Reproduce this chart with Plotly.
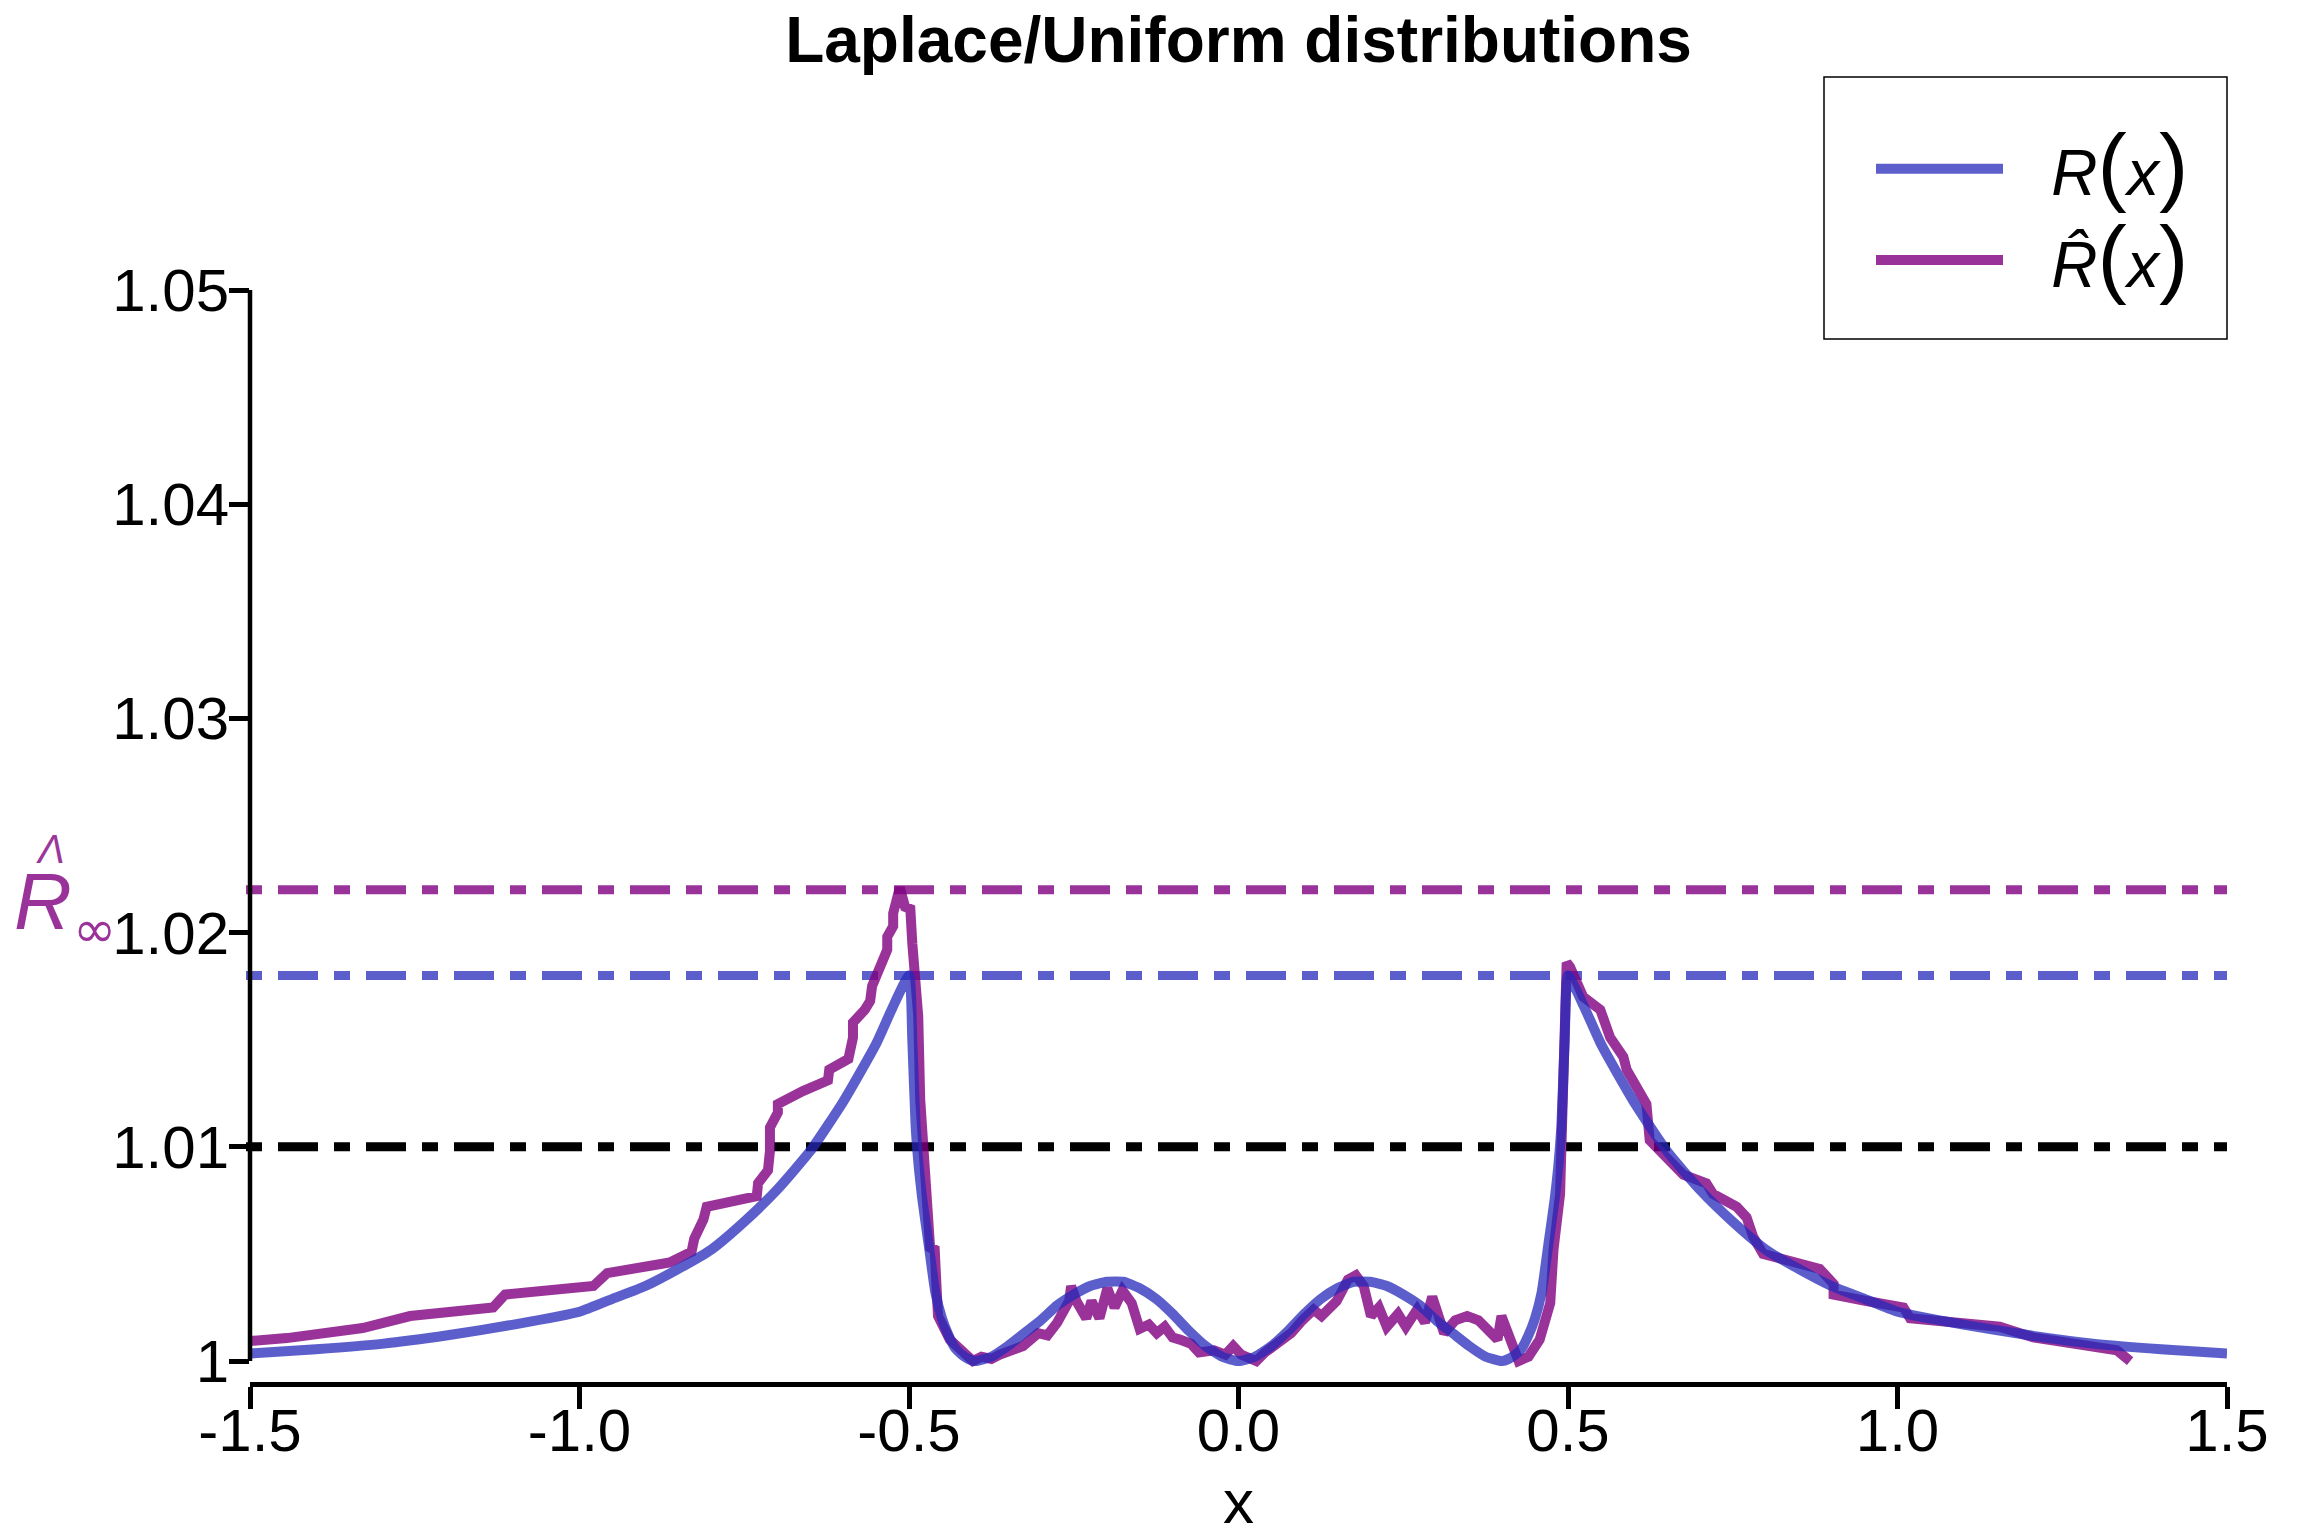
import plotly.graph_objects as go

# ---------------- data ----------------
r_x = [-1.5, -1.4, -1.3, -1.2, -1.1, -1.0, -0.95, -0.9, -0.85, -0.8, -0.75, -0.7, -0.65, -0.6,
       -0.55, -0.525, -0.5, -0.495, -0.49, -0.485, -0.48, -0.47, -0.46, -0.45, -0.44, -0.43,
       -0.42, -0.41, -0.4, -0.375, -0.35, -0.325, -0.3, -0.275, -0.25, -0.225, -0.2, -0.175,
       -0.15, -0.125, -0.1, -0.075, -0.05, -0.025, 0.0,
       0.025, 0.05, 0.075, 0.1, 0.125, 0.15, 0.175, 0.2, 0.225, 0.25, 0.275, 0.3, 0.325, 0.35,
       0.375, 0.4, 0.41, 0.42, 0.43, 0.44, 0.45, 0.46, 0.47, 0.48, 0.485, 0.49, 0.495, 0.5,
       0.525, 0.55, 0.6, 0.65, 0.7, 0.75, 0.8, 0.85, 0.9, 0.95, 1.0, 1.1, 1.2, 1.3, 1.4, 1.5]
r_y = [1.00035, 1.00055, 1.0008, 1.0012, 1.0017, 1.0023, 1.0029, 1.0035, 1.0043, 1.0052, 1.0065,
       1.0080, 1.0098, 1.0121, 1.0148, 1.0165, 1.0180, 1.0150, 1.0110, 1.0090, 1.0076, 1.0054,
       1.0032, 1.0020, 1.0012, 1.0006, 1.0003, 1.0001, 1.0000, 1.0002, 1.0007, 1.0013, 1.0019,
       1.0026, 1.0031, 1.0035, 1.0037, 1.0037, 1.0034, 1.0029, 1.0022, 1.0014, 1.0007, 1.0002,
       1.0000,
       1.0002, 1.0007, 1.0014, 1.0022, 1.0029, 1.0034, 1.0037, 1.0037, 1.0035, 1.0031, 1.0026,
       1.0019, 1.0013, 1.0007, 1.0002, 1.0000, 1.0001, 1.0003, 1.0006, 1.0012, 1.0020, 1.0032,
       1.0054, 1.0076, 1.0090, 1.0110, 1.0150, 1.0180, 1.0165, 1.0148, 1.0121, 1.0098, 1.0080,
       1.0065, 1.0052, 1.0043, 1.0035, 1.0029, 1.0023, 1.0017, 1.0012, 1.0008, 1.00055, 1.00035]

rhat_x = [-1.5, -1.444, -1.329, -1.257, -1.131, -1.113, -0.979, -0.958, -0.863, -0.830, -0.826,
          -0.812, -0.807, -0.731, -0.729, -0.714, -0.711, -0.711, -0.699, -0.699, -0.661, -0.623,
          -0.621, -0.592, -0.585, -0.585, -0.567, -0.559, -0.556, -0.539, -0.533, -0.533, -0.524,
          -0.524, -0.517, -0.514, -0.506, -0.498, -0.495, -0.488, -0.486, -0.483, -0.476, -0.468,
          -0.461, -0.456, -0.438, -0.423, -0.403, -0.39, -0.375, -0.362,
          -0.345, -0.327, -0.304, -0.290, -0.275, -0.257, -0.254, -0.246, -0.231, -0.223, -0.211,
          -0.199, -0.188, -0.176, -0.162, -0.150, -0.136, -0.124, -0.112, -0.100, -0.089, -0.072,
          -0.060, -0.037, -0.020, -0.008, 0.004, 0.027, 0.040, 0.056, 0.080, 0.097, 0.114, 0.126,
          0.149, 0.166, 0.178, 0.190, 0.201, 0.213, 0.225, 0.242, 0.254, 0.271, 0.283, 0.294,
          0.312, 0.329, 0.347, 0.364, 0.376, 0.393, 0.399, 0.410, 0.425, 0.440, 0.457, 0.473,
          0.478, 0.488, 0.493, 0.498, 0.503, 0.523, 0.549, 0.564, 0.584, 0.589, 0.619, 0.624,
          0.675, 0.710, 0.720, 0.756, 0.771, 0.781, 0.796, 0.852, 0.882, 0.903, 0.903, 0.953,
          1.009, 1.019, 1.155, 1.206, 1.257, 1.333, 1.353]
rhat_y = [1.00093, 1.00107, 1.00154, 1.0021, 1.0025, 1.0031, 1.0035, 1.0041, 1.0046, 1.0051,
          1.0057, 1.0066, 1.0072, 1.0077, 1.0083, 1.0089, 1.0098, 1.0109, 1.0116, 1.0120, 1.0126,
          1.0131, 1.0136, 1.0141, 1.0151, 1.0158, 1.0164, 1.0168, 1.0175, 1.0186, 1.0192, 1.0198,
          1.0203, 1.0209, 1.0215, 1.0221, 1.0212, 1.0211, 1.0195, 1.0176, 1.0161, 1.0122, 1.0083,
          1.0053, 1.0052, 1.0021, 1.0010, 1.0005, 1.0000, 1.0002, 1.0001, 1.0003,
          1.0005, 1.0007, 1.0013, 1.0012, 1.0018, 1.0028, 1.0035, 1.0028, 1.0020, 1.0028, 1.0020,
          1.0034, 1.0025, 1.0033, 1.0027, 1.0015, 1.0017, 1.0013, 1.0016, 1.0011, 1.0010, 1.0008,
          1.0004, 1.0005, 1.0003, 1.0007, 1.0003, 1.0000, 1.0004, 1.0008, 1.0013, 1.0019, 1.0024,
          1.0021, 1.0028, 1.0038, 1.0040, 1.0035, 1.0021, 1.0025, 1.0016, 1.0022, 1.0016, 1.0024,
          1.0018, 1.0030, 1.0013, 1.0019, 1.0021, 1.0019, 1.0015, 1.0010, 1.0021, 1.0012, 1.0000,
          1.0002, 1.0010, 1.0027, 1.0052, 1.0078, 1.0130, 1.0186, 1.0184, 1.0170, 1.0164, 1.0151,
          1.0142, 1.0136, 1.0120, 1.0103, 1.0087, 1.0083, 1.0078, 1.0072, 1.0067, 1.0058, 1.0050,
          1.0046, 1.0043, 1.0036, 1.0031, 1.0028, 1.0025, 1.0020, 1.0016, 1.0011, 1.00085, 1.0005,
          1.0000]

rhat_inf = 1.022      # R-hat infinity (purple dash-dot)
r_inf = 1.018         # R infinity (blue dash-dot)
threshold = 1.01      # black dash-dot

x_ticks = [-1.5, -1.0, -0.5, 0.0, 0.5, 1.0, 1.5]
x_ticktext = ["-1.5", "-1.0", "-0.5", "0.0", "0.5", "1.0", "1.5"]
y_ticks = [1.0, 1.01, 1.02, 1.03, 1.04, 1.05]
y_ticktext = ["1", "1.01", "1.02", "1.03", "1.04", "1.05"]

# ---------------- layout constants (page pixels) ----------------
OFF = 8                       # default body margin of the html page
PAGE_W, PAGE_H = 2304, 1536
W, H = PAGE_W - OFF, PAGE_H - OFF
P_LEFT, P_RIGHT, P_TOP, P_BOTTOM = 250, 2227, 290, 1382   # plot box on the page
ML, MT = P_LEFT - OFF, P_TOP - OFF
MR, MB = W - (P_RIGHT - OFF), H - (P_BOTTOM - OFF)
PW, PH = P_RIGHT - P_LEFT, P_BOTTOM - P_TOP


def px_x(p):   # page pixel column -> paper x
    return (p - P_LEFT) / PW


def px_y(p):   # page pixel row -> paper y
    return (P_BOTTOM - p) / PH


BLUE = "rgba(38,42,186,0.75)"
PURPLE = "rgba(128,0,128,0.8)"
FONT = "Liberation Sans, Arial, Helvetica, sans-serif"
DOTDASH = "16px,16px,40px,16px"

fig = go.Figure()

# horizontal reference lines
for val, col in [(threshold, "black"), (r_inf, BLUE), (rhat_inf, PURPLE)]:
    fig.add_hline(y=val, x0=px_x(246), x1=1,
                  line=dict(color=col, width=9, dash=DOTDASH), layer="below")


def legend_label(hat):
    r = "<i>R̂</i>" if hat else "<i>R</i>"
    pad = "<span style='font-size:52px'>\u00a0\u00a0\u00a0</span>"
    return (pad + "<span style='font-size:64px'>" + r
            + "<span style='font-size:88px'>(</span><i>x</i>"
            + "<span style='font-size:88px'>)</span></span>")


fig.add_trace(go.Scatter(x=rhat_x, y=rhat_y, mode="lines", name=legend_label(True),
                         line=dict(color=PURPLE, width=10), legendrank=2))
fig.add_trace(go.Scatter(x=r_x, y=r_y, mode="lines", name=legend_label(False),
                         line=dict(color=BLUE, width=10, shape="spline", smoothing=0.5),
                         legendrank=1))

# y axis line only between first and last tick
fig.add_shape(type="line", xref="paper", yref="y", x0=0, x1=0,
              y0=min(y_ticks), y1=max(y_ticks), line=dict(color="black", width=4.5))

# legend frame
fig.add_shape(type="rect", xref="paper", yref="paper",
              x0=px_x(1824), x1=px_x(2227), y0=px_y(339), y1=px_y(77),
              line=dict(color="black", width=1.5), fillcolor="rgba(0,0,0,0)")

# R-hat-infinity label at the left margin
fig.add_annotation(xref="paper", yref="paper", x=px_x(43), y=px_y(901),
                   xanchor="center", yanchor="middle", showarrow=False,
                   text="<i>R</i>", font=dict(family=FONT, size=80, color=PURPLE))
fig.add_annotation(xref="paper", yref="paper", x=px_x(50), y=px_y(849),
                   xanchor="center", yanchor="middle", showarrow=False,
                   text="<i>Λ</i>", font=dict(family=FONT, size=40, color=PURPLE))
fig.add_annotation(xref="paper", yref="paper", x=px_x(94), y=px_y(929),
                   xanchor="center", yanchor="middle", showarrow=False,
                   text="∞", font=dict(family="DejaVu Sans", size=52, color=PURPLE))

fig.update_layout(
    width=W, height=H,
    paper_bgcolor="white", plot_bgcolor="white",
    margin=dict(l=ML, r=MR, t=MT, b=MB, autoexpand=False),
    font=dict(family=FONT, size=60, color="black"),
    title=dict(text="<b>Laplace/Uniform distributions</b>", x=0.5, xref="paper",
               y=1 - (40 - OFF) / H, yref="container", yanchor="middle",
               font=dict(family=FONT, size=64, color="black")),
    showlegend=True,
    legend=dict(x=px_x(1871), xanchor="left", y=px_y(118), yanchor="top",
                borderwidth=0, bgcolor="rgba(0,0,0,0)",
                font=dict(family=FONT, size=68), itemwidth=127),
    xaxis=dict(range=[-1.5, 1.5], tickvals=x_ticks, ticktext=x_ticktext,
               showline=True, linecolor="black", linewidth=4.5,
               ticks="outside", ticklen=22, tickwidth=4.5, tickcolor="black",
               ticklabelstandoff=-30,
               showgrid=False, zeroline=False, automargin=False,
               tickfont=dict(family=FONT, size=60),
               title=dict(text="x", font=dict(family=FONT, size=62), standoff=54)),
    yaxis=dict(range=[0.99902, 1.05], tickvals=y_ticks, ticktext=y_ticktext,
               showline=False, ticks="outside", ticklen=20, tickwidth=4.5,
               ticklabelstandoff=-12,
               tickcolor="black", showgrid=False, zeroline=False, automargin=False,
               tickfont=dict(family=FONT, size=60)),
)

fig.write_html("out.html")
